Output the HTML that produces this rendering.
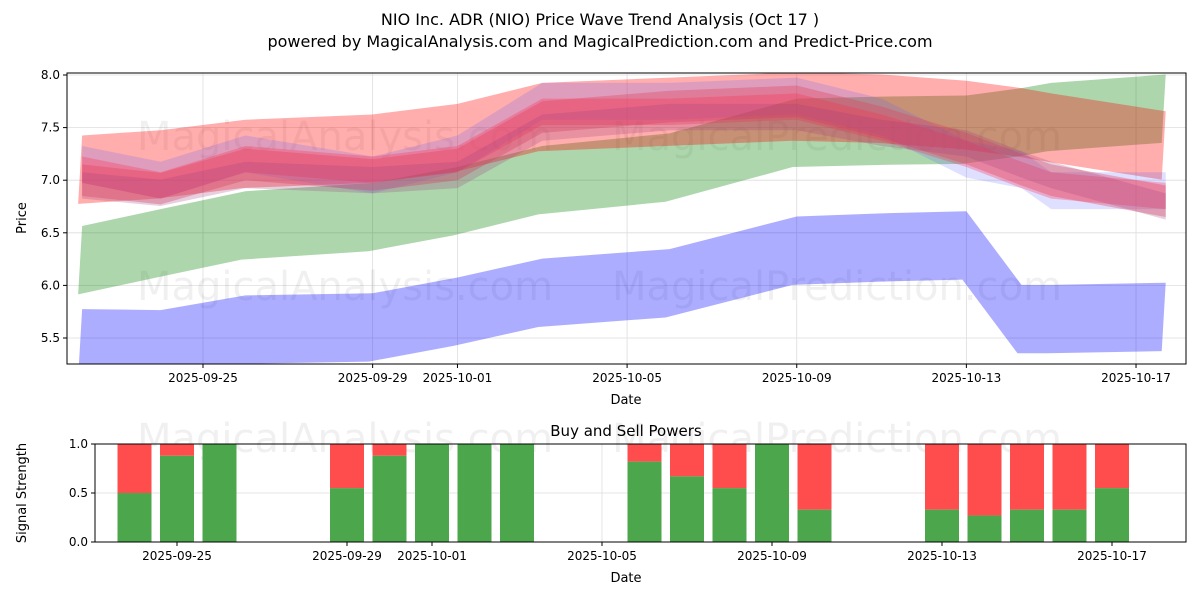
<!DOCTYPE html>
<html><head><meta charset="utf-8"><style>
body{margin:0;background:#fff;font-family:"Liberation Sans","DejaVu Sans",sans-serif;}
svg text{font-family:"DejaVu Sans","Liberation Sans",sans-serif;}
</style></head><body>
<svg id="c" width="1200" height="600" xmlns="http://www.w3.org/2000/svg">
<rect width="1200" height="600" fill="#fff"/>
<text x="600" y="25" text-anchor="middle" font-size="16">NIO Inc. ADR (NIO) Price Wave Trend Analysis (Oct 17 )</text>
<text x="600" y="47" text-anchor="middle" font-size="16">powered by MagicalAnalysis.com and MagicalPrediction.com and Predict-Price.com</text>
<defs><clipPath id="cp"><rect x="67" y="73" width="1119" height="291"/></clipPath><clipPath id="cp2"><rect x="95" y="444" width="1091" height="98"/></clipPath></defs>
<g id="topg"></g><g id="botg"></g>
</svg>
<script>
// top chart data (day index: 0 = 2025-09-22)
const bandDays = [0.15, 2, 4, 7, 9, 11, 14, 17, 19, 21, 22.3, 23, 25.7];
const blueLow = [5.45, 5.44, 5.58, 5.6, 5.75, 5.93, 6.02, 6.33, 6.36, 6.38, 5.68, 5.68, 5.7];
const greenBand = [6.24, 6.4, 6.57, 6.65, 6.8, 7.0, 7.12, 7.45, 7.47, 7.48, 7.55, 7.6, 7.68];
const redWide = [7.1, 7.15, 7.25, 7.3, 7.4, 7.6, 7.65, 7.7, 7.68, 7.62, 7.55, 7.5, 7.33];
const midA = [7.0, 6.92, 7.15, 7.05, 7.15, 7.6, 7.7, 7.75, 7.55, 7.3, 7.1, 7.0, 6.8];
const midB = [7.1, 6.95, 7.2, 7.1, 7.2, 7.65, 7.65, 7.7, 7.5, 7.25, 7.05, 6.95, 6.85];
const midC = [7.15, 7.0, 7.25, 7.05, 7.25, 7.75, 7.75, 7.8, 7.6, 7.2, 7.1, 6.9, 6.9];
const midD = [6.95, 6.88, 7.05, 7.0, 7.05, 7.5, 7.6, 7.6, 7.45, 7.35, 7.15, 7.05, 6.75];
const yTicks = [5.5, 6.0, 6.5, 7.0, 7.5, 8.0];
const xTickDays = [3, 7, 9, 13, 17, 21, 25];
const xTickLabels = ["2025-09-25","2025-09-29","2025-10-01","2025-10-05","2025-10-09","2025-10-13","2025-10-17"];
// bottom chart
const barDays = [2,3,4,7,8,9,10,11,14,15,16,17,18,21,22,23,24,25];
const buyVals = [0.5,0.88,1.0,0.55,0.88,1,1,1,0.82,0.67,0.55,1.0,0.33,0.33,0.27,0.33,0.33,0.55];
const bTicks = [0, 0.5, 1.0];

const NS="http://www.w3.org/2000/svg";
const topG=document.getElementById('topg'), botG=document.getElementById('botg');
function el(t,a,p){const e=document.createElementNS(NS,t);for(const k in a)e.setAttribute(k,a[k]);p.appendChild(e);return e;}
const xT=d=>203+(d-3)*42.41;
const yT=v=>75+(8.0-v)*105.2;
const xB=d=>49.5+d*42.5;
const yB=v=>542-v*98;

yTicks.forEach(v=>{const l=el('line',{x1:67,x2:1186,y1:yT(v),y2:yT(v),stroke:'#ddd','stroke-width':0.8},topG);});
xTickDays.forEach(d=>{const l=el('line',{x1:xT(d),x2:xT(d),y1:73,y2:364,stroke:'#ddd','stroke-width':0.8},topG);});
const wm=[[345,150,'MagicalAnalysis.com'],[837,150,'MagicalPrediction.com'],[345,300,'MagicalAnalysis.com'],[837,300,'MagicalPrediction.com'],[345,452,'MagicalAnalysis.com'],[837,452,'MagicalPrediction.com']];
wm.forEach(w=>{const t=el('text',{x:w[0],y:w[1],'text-anchor':'middle','font-size':40,fill:'#000','fill-opacity':0.06},topG);t.textContent=w[2];});

const g=el('g',{'clip-path':'url(#cp)'},topG);
function band(arr,w,color,op,name,shift){
  let up=bandDays.map((d,i)=>xT(d)+','+yT(arr[i]+w/2)).join(' ');
  let lo=bandDays.map((d,i)=>(xT(d)+(shift||0))+','+yT(arr[i]-w/2)).reverse().join(' ');
  const p=el('polygon',{points:up+' '+lo,fill:color,'fill-opacity':op},g);
  
}
band(blueLow,0.65,'#0000ff',0.32,'blue-low-band',-4);
band(greenBand,0.65,'#008000',0.32,'green-band',-4);
band(redWide,0.65,'#ff0000',0.32,'red-wide-band',-4);
band(midC,0.35,'#6060ff',0.2,'blue-wave-band');
band(midA,0.3,'#e0405a',0.35,'red-wave-band-a');
band(midB,0.25,'#ff3050',0.3,'red-wave-band-b');
band(midD,0.25,'#a04080',0.25,'purple-wave-band');

el('rect',{x:67,y:73,width:1119,height:291,fill:'none',stroke:'#000','stroke-width':1},topG);
yTicks.forEach(v=>{el('line',{x1:63,x2:67,y1:yT(v),y2:yT(v),stroke:'#000'},topG);const t=el('text',{x:60,y:yT(v)+4,'text-anchor':'end','font-size':12},topG);t.textContent=v.toFixed(1);});
xTickDays.forEach((d,i)=>{el('line',{x1:xT(d),x2:xT(d),y1:364,y2:368,stroke:'#000'},topG);const t=el('text',{x:xT(d),y:382,'text-anchor':'middle','font-size':12},topG);t.textContent=xTickLabels[i];});
let t=el('text',{x:626,y:404,'text-anchor':'middle','font-size':13},topG);t.textContent='Date';
t=el('text',{x:26,y:218,'text-anchor':'middle','font-size':13,transform:'rotate(-90 26 218)'},topG);t.textContent='Price';

t=el('text',{x:626,y:436,'text-anchor':'middle','font-size':15},botG);t.textContent='Buy and Sell Powers';
bTicks.forEach(v=>{const l=el('line',{x1:95,x2:1186,y1:yB(v),y2:yB(v),stroke:'#ddd','stroke-width':0.8},botG);});
xTickDays.forEach(d=>{const l=el('line',{x1:xB(d),x2:xB(d),y1:444,y2:542,stroke:'#ddd','stroke-width':0.8},botG);});
const bg=el('g',{'clip-path':'url(#cp2)'},botG);
barDays.forEach((d,i)=>{
  const x=xB(d)-17,v=buyVals[i];
  const s=el('rect',{x:x,y:yB(1),width:34,height:yB(v)-yB(1),fill:'#ff4c4c'},bg);
  
  const b=el('rect',{x:x,y:yB(v),width:34,height:yB(0)-yB(v),fill:'#4ca64c'},bg);
  
});
el('rect',{x:95,y:444,width:1091,height:98,fill:'none',stroke:'#000'},botG);
bTicks.forEach(v=>{el('line',{x1:91,x2:95,y1:yB(v),y2:yB(v),stroke:'#000'},botG);const t=el('text',{x:88,y:yB(v)+4,'text-anchor':'end','font-size':12},botG);t.textContent=v.toFixed(1);});
xTickDays.forEach((d,i)=>{el('line',{x1:xB(d),x2:xB(d),y1:542,y2:546,stroke:'#000'},botG);const t=el('text',{x:xB(d),y:560,'text-anchor':'middle','font-size':12},botG);t.textContent=xTickLabels[i];});
t=el('text',{x:626,y:582,'text-anchor':'middle','font-size':13},botG);t.textContent='Date';
t=el('text',{x:26,y:493,'text-anchor':'middle','font-size':13,transform:'rotate(-90 26 493)'},botG);t.textContent='Signal Strength';
</script>
</body></html>
